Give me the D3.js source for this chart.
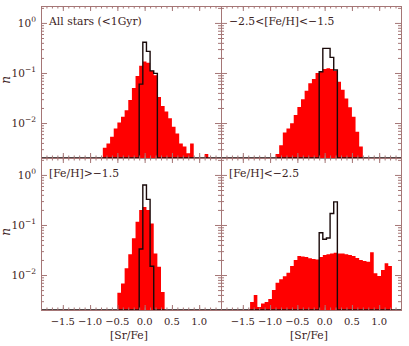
<!DOCTYPE html>
<html>
<head>
<meta charset="utf-8">
<script src="https://cdn.jsdelivr.net/npm/d3@7"></script>
<style>
  body { margin: 0; background: #fff; }
  svg { display: block; }
  text { font-family: "DejaVu Serif", "Liberation Serif", serif; fill: #3c2323; }
</style>
</head>
<body>
<svg id="chart" width="409" height="346"></svg>
<script>
// bins are 1/15 wide, centred on k/15; each series gives the k of its first bin
const binWidth = 1 / 15

const labels = ['All stars (<1Gyr)', '\u22122.5<[Fe/H]<\u22121.5', '[Fe/H]>\u22121.5', '[Fe/H]<\u22122.5']

const redAllStart = -11
const redAll = [0.0032, 0.0039, 0.0053, 0.0078, 0.0103, 0.0134, 0.018, 0.029, 0.05, 0.087,
                0.14, 0.17, 0.16, 0.111, 0.09, 0.033, 0.022, 0.017, 0.0125, 0.0084,
                0.0062, 0.0039, 0.0034, 0.0025, 0.0039, 0, 0, 0, 0.0024]
const blackAllStart = -1
const blackAll = [0.06, 0.41, 0.27, 0.11, 0.098]

const redMidStart = -13
const redMid = [0.0024, 0.0036, 0.0065, 0.0078, 0.0099, 0.0145, 0.021, 0.030, 0.044, 0.062,
                0.076, 0.10, 0.106, 0.12, 0.125, 0.12, 0.11, 0.067, 0.046, 0.031,
                0.0206, 0.0134, 0.0067, 0.0034]
const blackMidStart = -1
const blackMid = [0.106, 0.31, 0.31, 0.205, 0.115]

const redRichStart = -7
const redRich = [0.0044, 0.0068, 0.0136, 0.026, 0.054, 0.116, 0.20, 0.23, 0.20, 0.107,
                 0.027, 0.0147, 0.0046]
const blackRichStart = -1
const blackRich = [0.033, 0.63, 0.325, 0.015]

const redPoorStart = -20
const redPoor = [0.0029, 0.0040, 0.0023, 0.0027, 0.0029, 0.0033, 0.005, 0.0070, 0.0082, 0.0095,
                 0.0111, 0.0151, 0.020, 0.024, 0.0235, 0.023, 0.0216, 0.021, 0.0205, 0.023,
                 0.025, 0.026, 0.027, 0.028, 0.027, 0.027, 0.026, 0.025, 0.024, 0.022,
                 0.020, 0.019, 0.0185, 0.0284, 0.0108, 0.0096, 0.0126, 0.0171, 0.0151]
const blackPoorStart = -1
const blackPoor = [0.070, 0.052, 0.055, 0.17, 0.29]

const xTicks = [-1.5, -1.0, -0.5, 0.0, 0.5, 1.0]
const yTicks = [1, 0.1, 0.01]
const yTickExp = ['0', '\u22121', '\u22122']

const xDomain = [-1.9, 1.4]
const yDomain = [0.002, 2.18]

const frameColor = '#a57676'
const marginLeft = 41, marginTop = 6, pw = 180, ph = 152

const panels = [
  {col: 0, row: 0, label: labels[0], red: [redAllStart, redAll], black: [blackAllStart, blackAll]},
  {col: 1, row: 0, label: labels[1], red: [redMidStart, redMid], black: [blackMidStart, blackMid]},
  {col: 0, row: 1, label: labels[2], red: [redRichStart, redRich], black: [blackRichStart, blackRich]},
  {col: 1, row: 1, label: labels[3], red: [redPoorStart, redPoor], black: [blackPoorStart, blackPoor]}
]

const svg = d3.select('#chart')

// turn a [start, values] pair into step points, zero bins sit on the floor
const steps = (series, closeToDomain) => {
  const [k0, vals] = series
  const pts = []
  if (closeToDomain) pts.push([xDomain[0], yDomain[0]])
  const first = (k0 - 0.5) * binWidth
  pts.push([first, yDomain[0]])
  vals.forEach((v, i) => {
    const lo = (k0 + i - 0.5) * binWidth
    const hi = lo + binWidth
    const y = Math.max(v, yDomain[0])
    pts.push([lo, y], [hi, y])
  })
  pts.push([(k0 + vals.length - 0.5) * binWidth, yDomain[0]])
  if (closeToDomain) pts.push([xDomain[1], yDomain[0]])
  return pts
}

const minorX = d3.range(-1.9, 1.401, 0.1).map(d => Math.round(d * 10) / 10)
const minorY = []
;[0.001, 0.01, 0.1, 1].forEach(dec => {
  for (let m = 2; m <= 9; m++) {
    const v = dec * m
    if (v > yDomain[0] && v < yDomain[1]) minorY.push(v)
  }
})

panels.forEach((p, i) => {
  const x0 = marginLeft + p.col * pw
  const y0 = marginTop + p.row * ph
  const x = d3.scaleLinear().domain(xDomain).range([x0, x0 + pw])
  const y = d3.scaleLog().domain(yDomain).range([y0 + ph, y0])

  const g = svg.append('g')

  svg.append('clipPath').attr('id', 'clip' + i)
    .append('rect').attr('x', x0).attr('y', y0).attr('width', pw).attr('height', ph)

  const area = d3.area().x(d => x(d[0])).y0(y(yDomain[0])).y1(d => y(d[1]))
  const line = d3.line().x(d => x(d[0])).y(d => y(d[1]))

  g.append('path')
    .attr('clip-path', `url(#clip${i})`)
    .attr('d', area(steps(p.red, false)))
    .style('fill', '#ff0000')
    .style('stroke', 'none')

  g.append('path')
    .attr('clip-path', `url(#clip${i})`)
    .attr('d', line(steps(p.black, true)))
    .style('fill', 'none')
    .style('stroke', '#1a0a0a')
    .style('stroke-width', 1.4)

  // axes, ticks pointing inward on all four sides
  const bottomMajor = d3.axisBottom(x).tickValues(xTicks).tickSize(-5).tickFormat('')
  const bottomMinor = d3.axisBottom(x).tickValues(minorX).tickSize(-2.5).tickFormat('')
  const topMajor = d3.axisTop(x).tickValues(xTicks).tickSize(-5).tickFormat('')
  const topMinor = d3.axisTop(x).tickValues(minorX).tickSize(-2.5).tickFormat('')
  const leftMajor = d3.axisLeft(y).tickValues(yTicks).tickSize(-6).tickFormat('')
  const leftMinor = d3.axisLeft(y).tickValues(minorY).tickSize(-3).tickFormat('')
  const rightMajor = d3.axisRight(y).tickValues(yTicks).tickSize(-6).tickFormat('')
  const rightMinor = d3.axisRight(y).tickValues(minorY).tickSize(-3).tickFormat('')

  const axes = [
    [bottomMajor, 0, y0 + ph], [bottomMinor, 0, y0 + ph],
    [topMajor, 0, y0], [topMinor, 0, y0],
    [leftMajor, x0, 0], [leftMinor, x0, 0],
    [rightMajor, x0 + pw, 0], [rightMinor, x0 + pw, 0]
  ]
  axes.forEach(([ax, tx, ty]) => {
    const a = g.append('g').attr('transform', `translate(${tx},${ty})`).call(ax)
    a.selectAll('path, line').attr('stroke', frameColor).attr('stroke-width', 1)
  })

  g.append('text')
    .attr('x', x0 + 8)
    .attr('y', y0 + 19)
    .style('font-size', '10.8px')
    .text(p.label)

  if (p.col === 0) {
    const lab = g.selectAll('.ylab').data(yTicks).enter().append('text')
      .attr('x', x0 - 5)
      .attr('y', d => y(d) + 4)
      .attr('text-anchor', 'end')
      .style('font-size', '10.5px')
    lab.append('tspan').text('10')
    lab.append('tspan')
      .attr('dy', -5)
      .style('font-size', '7.5px')
      .text((d, j) => yTickExp[j])

    g.append('text')
      .attr('transform', `translate(10,${y0 + ph / 2 - 2}) rotate(-90)`)
      .attr('text-anchor', 'middle')
      .style('font-size', '12px')
      .style('font-style', 'italic')
      .text('n')
  }

  if (p.row === 1) {
    g.selectAll('.xlab').data(xTicks).enter().append('text')
      .attr('x', d => x(d))
      .attr('y', y0 + ph + 15)
      .attr('text-anchor', 'middle')
      .style('font-size', '10px')
      .text(d => (d < 0 ? '\u2212' : '') + Math.abs(d).toFixed(1))

    g.append('text')
      .attr('x', x0 + pw / 2 - 2)
      .attr('y', y0 + ph + 29)
      .attr('text-anchor', 'middle')
      .style('font-size', '10.8px')
      .text('[Sr/Fe]')
  }
})
</script>
</body>
</html>
